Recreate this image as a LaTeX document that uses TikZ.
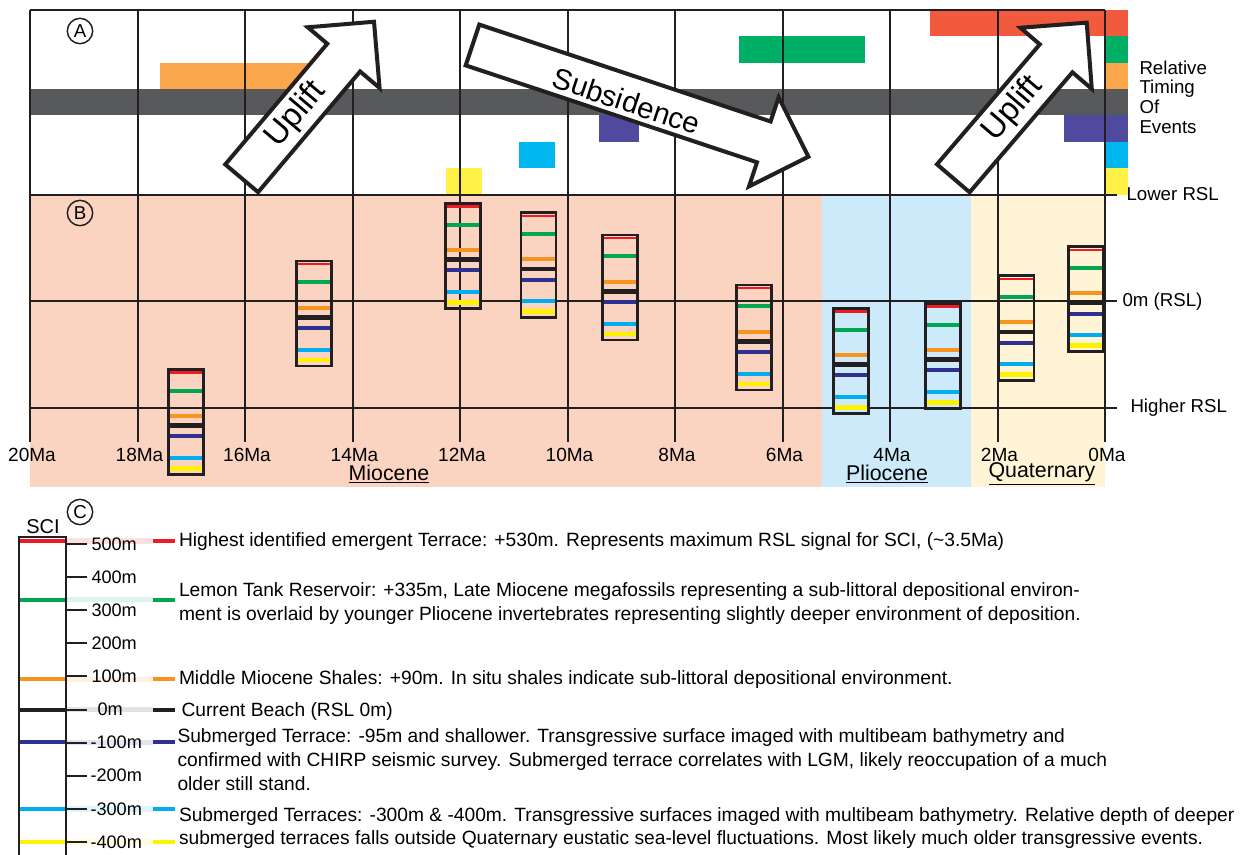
\documentclass[tikz,border=0pt]{standalone}
\usepackage{fontspec}
\setmainfont{Liberation Sans}

\definecolor{evred}{RGB}{241,90,60}
\definecolor{evgreen}{RGB}{0,175,102}
\definecolor{evorange}{RGB}{250,166,74}
\definecolor{evgray}{RGB}{88,89,91}
\definecolor{evpurple}{RGB}{80,74,158}
\definecolor{evcyan}{RGB}{0,184,239}
\definecolor{evyellow}{RGB}{255,241,70}
\definecolor{srred}{RGB}{237,28,36}
\definecolor{srgreen}{RGB}{0,166,81}
\definecolor{srorange}{RGB}{247,148,29}
\definecolor{srblack}{RGB}{35,31,32}
\definecolor{srnavy}{RGB}{46,49,146}
\definecolor{srcyan}{RGB}{0,174,239}
\definecolor{sryellow}{RGB}{255,242,0}
\definecolor{miobg}{RGB}{251,211,193}
\definecolor{pliobg}{RGB}{204,234,250}
\definecolor{quatbg}{RGB}{255,245,214}

\tikzset{every picture/.style={line width=0.75pt}}
\tikzset{
  gridline/.style={draw=srblack, line width=1.5pt},
  boxframe/.style={draw=srblack, line width=2pt},
  stripe/.style={line width=3pt},
  trendarrow/.style={draw=srblack, fill=white, line width=3pt},
  trendtext/.style={font=\fontsize{22}{26}\selectfont, inner sep=0pt},
  agelabel/.style={font=\fontsize{14.3}{16}\selectfont, inner sep=0pt},
  epochlabel/.style={font=\fontsize{16}{18}\selectfont, inner sep=0pt},
  sidelabel/.style={font=\fontsize{14}{16}\selectfont, inner sep=0pt, anchor=west},
  scalelabel/.style={font=\fontsize{13.6}{15}\selectfont, inner sep=0pt, anchor=west},
  notelabel/.style={font=\fontsize{14.4}{17.9}\selectfont, inner sep=0pt, anchor=west, align=left},
  panelmark/.style={circle, draw=srblack, line width=1.1pt, minimum size=19pt, inner sep=0pt, font=\fontsize{14}{14}\selectfont},
  pics/trend/.style={code={
    \draw[trendarrow] (0,-21.5) -- (#1-47,-21.5) -- (#1-47,-47) -- (#1,0) -- (#1-47,47) -- (#1-47,21.5) -- (0,21.5) -- cycle;
  }}
}

\begin{document}
\begin{tikzpicture}[x=0.75pt,y=0.75pt,yscale=-1,xscale=1]
\useasboundingbox (0,0) rectangle (1240,855);

%Epoch backgrounds
\fill[miobg] (30,195) rectangle (821.5,487);
\fill[pliobg] (821.5,195) rectangle (970.5,487);
\fill[quatbg] (970.5,195) rectangle (1105,487);

%Event bars (rows of 26.36)
\fill[evred] (930,10) rectangle (1105,36.4);
\fill[evgreen] (739,36.4) rectangle (865,62.7);
\fill[evorange] (160,62.7) rectangle (330,89.1);
\fill[evgray] (30,89.1) rectangle (1105,115.4);
\fill[evpurple] (599,115.4) rectangle (639,141.8);
\fill[evpurple] (1064,115.4) rectangle (1105,141.8);
\fill[evcyan] (519,141.8) rectangle (555,168.2);
\fill[evyellow] (445.5,168.2) rectangle (481.5,194.5);

%Timing key
\foreach \c [count=\i from 0] in {evred,evgreen,evorange,evgray,evpurple,evcyan,evyellow}
  \fill[\c] (1105,10+26.36*\i) rectangle (1128,36.36+26.36*\i);

%Grid
\foreach \k in {0,...,10}
  \draw[gridline] (30+107.5*\k,10) -- (30+107.5*\k,442);
\draw[gridline] (30,10) -- (1105,10);
\draw[gridline] (30,195) -- (1117,195);
\draw[gridline] (30,301.5) -- (1117,301.5);
\draw[gridline] (30,408) -- (1117,408);

%Trend arrows
\pic[rotate=49.8] at (241.7,178.3) {trend=205};
\pic[rotate=-18.4] at (472.5,45) {trend=354};
\pic[rotate=49.4] at (953.3,178.3) {trend=205};
\node[trendtext, font=\fontsize{24.5}{26}\selectfont, rotate=49.8] (upliftA) at (296,115) {Uplift};
\node[trendtext, rotate=-18.4] (subsid) at (626.5,101) {Subsidence};
\node[trendtext, font=\fontsize{24.5}{26}\selectfont, rotate=49.4] (upliftB) at (1013,109) {Uplift};

%RSL boxes
\foreach \bx/\by in {186.3/369.3, 314/261, 462.8/203.3, 538.5/212.7, 620/235, 754.2/285, 851/308.3, 942.8/303.3, 1016.6/275.7, 1086.2/246.7}{
  \foreach \sc/\sy/\sw in {srred/3.3/1.8, srgreen/21.3/3, srorange/46.6/3, srblack/56.3/3.5, srnavy/67/3, srcyan/88.6/3, sryellow/99/3.5}
    \draw[stripe, draw=\sc, line width=\sw pt] (\bx-17.5,\by+\sy) -- (\bx+17.5,\by+\sy);
  \draw[boxframe] (\bx-17.5,\by) rectangle (\bx+17.5,\by+105);
}

% Text Node
\foreach \a [count=\k from 0] in {20,18,...,0}
  \node[agelabel] (age\a) at (32+107.5*\k,455) {\a Ma};
\node[epochlabel] (miocene) at (389,474) {\underline{Miocene}};
\node[epochlabel] (pliocene) at (887,474) {\underline{Pliocene}};
\node[epochlabel] (quaternary) at (1042,474) {\underline{Quaternary}};
\node[sidelabel] (lowerrsl) at (1126,194) {Lower RSL};
\node[sidelabel] (zerorsl) at (1122,301.5) {0m (RSL)};
\node[sidelabel] (higherrsl) at (1130,408) {Higher RSL};
\node[sidelabel, align=left, font=\fontsize{14}{14.8}\selectfont] (timing) at (1139,97) {Relative\\Timing\\Of\\Events};
\node[panelmark] (panA) at (80,31) {A};
\node[panelmark] (panB) at (80,213) {B};
\node[panelmark] (panC) at (80,512) {C};

%SCI scale
\node[font=\fontsize{15}{15}\selectfont, inner sep=0pt] (scilabel) at (43,527) {SCI};
\foreach \c/\y in {srred/541, srgreen/599.7, srorange/679.3, srblack/709.5, srnavy/742.3, srcyan/809, sryellow/842}{
  \draw[stripe, line width=3.8pt, \c!13] (66.5,\y) -- (153,\y);
  \draw[stripe, \c] (153,\y) -- (175,\y);
  \draw[stripe, \c] (19,\y) -- (65.7,\y);
}
\draw[gridline] (19,860) -- (19,537.5) -- (65.7,537.5) -- (65.7,860);
\foreach \v/\lx [count=\i from 0] in {500m/91, 400m/91, 300m/91, 200m/91, 100m/91, 0m/97, -100m/90, -200m/90, -300m/90, -400m/90}{
  \draw[gridline] (65.7,544+33.1*\i) -- (87.3,544+33.1*\i);
  \node[scalelabel] (tick\i) at (\lx,544+33.1*\i) {\v};
}

% Text Node
\node[notelabel] (noteA) at (178.5,542) {Highest identified emergent Terrace: +530m. Represents maximum RSL signal for SCI, (\textasciitilde3.5Ma)};
\node[notelabel] (noteB) at (178.5,603.7) {Lemon Tank Reservoir: +335m, Late Miocene megafossils representing a sub-littoral depositional environ-\\ment is overlaid by younger Pliocene invertebrates representing slightly deeper environment of deposition.};
\node[notelabel] (noteC) at (178.5,679.3) {Middle Miocene Shales: +90m. In situ shales indicate sub-littoral depositional environment.};
\node[notelabel] (noteD) at (181,711.7) {Current Beach (RSL 0m)};
\node[notelabel] (noteE) at (177,760) {Submerged Terrace: -95m and shallower. Transgressive surface imaged with multibeam bathymetry and\\confirmed with CHIRP seismic survey. Submerged terrace correlates with LGM, likely reoccupation of a much\\older still stand.};
\node[notelabel] (noteF) at (178.5,828) {Submerged Terraces: -300m \& -400m. Transgressive surfaces imaged with multibeam bathymetry. Relative depth of deeper\\submerged terraces falls outside Quaternary eustatic sea-level fluctuations. Most likely much older transgressive events.};

\end{tikzpicture}
\end{document}
